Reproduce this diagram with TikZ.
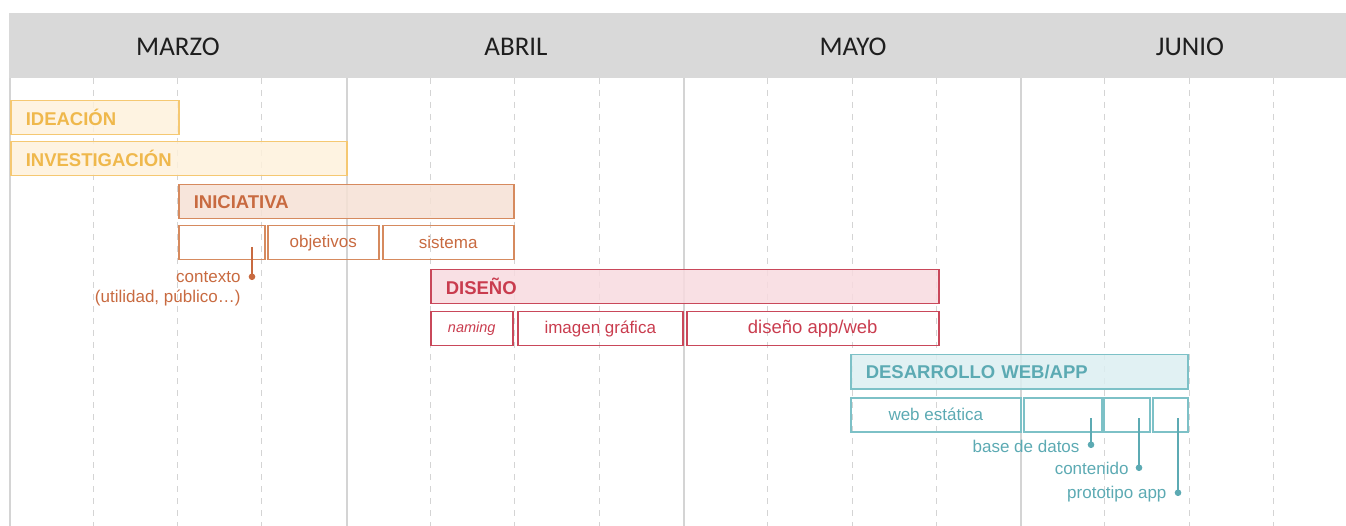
\documentclass[tikz,border=0pt]{standalone}
\usepackage{fontspec}
\setmainfont{Liberation Sans}
\newfontfamily\monthfont{Carlito}
\usetikzlibrary{arrows.meta, positioning}

\definecolor{headergray}{HTML}{D9D9D9}
\definecolor{gridgray}{HTML}{D4D4D4}
\definecolor{monthtext}{HTML}{1E1E1E}
\definecolor{ideaedge}{HTML}{F5C872}
\definecolor{ideafill}{HTML}{FEF1DC}
\definecolor{ideatext}{HTML}{EFB84C}
\definecolor{iniedge}{HTML}{D68A5E}
\definecolor{inifill}{HTML}{F6E1D5}
\definecolor{initext}{HTML}{C86A40}
\definecolor{disedge}{HTML}{C9485A}
\definecolor{disfill}{HTML}{F8DBDF}
\definecolor{distext}{HTML}{C93C4E}
\definecolor{devedge}{HTML}{7DC1C7}
\definecolor{devfill}{HTML}{DCEFF1}
\definecolor{devtext}{HTML}{5CAAB3}

\tikzstyle{month_label} = [font=\monthfont\fontsize{27}{30}\selectfont, text=monthtext]
\tikzstyle{week_line} = [gridgray, dash pattern=on 6pt off 6pt, line width=0.9pt]
\tikzstyle{month_line} = [gridgray, line width=2pt]
\tikzstyle{phase_bar} = [rectangle, anchor=north west, minimum height=34pt, inner xsep=15pt, inner ysep=0pt, align=left, line width=1.5pt, fill opacity=0.85, text opacity=1, font=\bfseries\fontsize{18.5}{20}\selectfont]
\tikzstyle{phase_idea} = [phase_bar, draw=ideaedge, fill=ideafill, text=ideatext]
\tikzstyle{phase_ini} = [phase_bar, draw=iniedge, fill=inifill, text=initext]
\tikzstyle{phase_dis} = [phase_bar, draw=disedge, fill=disfill, text=distext]
\tikzstyle{phase_dev} = [phase_bar, draw=devedge, fill=devfill, text=devtext]
\tikzstyle{task_box} = [rectangle, anchor=north west, minimum height=34pt, inner sep=0pt, line width=1.5pt, font=\fontsize{17}{19}\selectfont]
\tikzstyle{task_ini} = [task_box, draw=iniedge, text=initext]
\tikzstyle{task_dis} = [task_box, draw=disedge, text=distext]
\tikzstyle{task_dev} = [task_box, draw=devedge, text=devtext]
\tikzstyle{note_label} = [align=right, font=\fontsize{17}{20}\selectfont]
\tikzstyle{note_link} = [line width=1.8pt, -{Circle[length=6.5pt]}]

\begin{document}
\begin{tikzpicture}[x=1pt, y=-1pt]

    \useasboundingbox (0,0) rectangle (1346,526);

    % week and month grid
    \foreach \k in {1,2,3,5,6,7,9,10,11,13,14,15}
        \draw [week_line] ({9+84.3*\k}, 78) -- ({9+84.3*\k}, 526);
    \foreach \m in {0,1,2,3}
        \draw [month_line] ({9.5+337.2*\m}, 78) -- ({9.5+337.2*\m}, 526);

    % header band
    \fill [headergray] (9,13) rectangle (1346,78);
    \node (marzo) [month_label] at (178,47) {MARZO};
    \node (abril) [month_label] at (516,47) {ABRIL};
    \node (mayo) [month_label] at (853,47) {MAYO};
    \node (junio) [month_label] at (1190,47) {JUNIO};

    % phases
    \node (ideacion) [phase_idea, text width=138pt] at (10,100) {IDEACIÓN};
    \node (investigacion) [phase_idea, text width=306pt] at (10,141) {INVESTIGACIÓN};
    \node (iniciativa) [phase_ini, text width=305pt] at (178,184) {INICIATIVA};
    \node (diseno) [phase_dis, text width=478pt] at (430,269) {DISEÑO};
    \node (desarrollo) [phase_dev, text width=307pt] at (850,354) {DESARROLLO WEB/APP};

    % tasks of iniciativa
    \node (contexto) [task_ini, minimum width=86pt] at (178,225) {};
    \node (objetivos) [task_ini, minimum width=111pt] at (267,225) {objetivos};
    \node (sistema) [task_ini, minimum width=131pt] at (382,225) {sistema};

    % tasks of diseno
    \node (naming) [task_dis, minimum width=82pt, font=\itshape\fontsize{14.5}{16}\selectfont] at (430,311) {naming};
    \node (imagen) [task_dis, minimum width=165pt] at (517,311) {imagen gráfica};
    \node (appweb) [task_dis, minimum width=252pt, font=\fontsize{18.5}{20}\selectfont] at (686,311) {diseño app/web};

    % tasks of desarrollo
    \node (estatica) [task_dev, minimum width=170pt] at (850,397) {web estática};
    \node (datos) [task_dev, minimum width=78pt] at (1023,397) {};
    \node (contenido) [task_dev, minimum width=46pt] at (1103,397) {};
    \node (prototipo) [task_dev, minimum width=35pt] at (1152,397) {};

    % call-outs for the empty boxes
    \coordinate (contexto_top) at (252,247);
    \coordinate (contexto_dot) at (252,280);
    \node (contexto_note) [note_label, text=initext, left=8pt of contexto_dot, yshift=-8.5pt] {contexto\\(utilidad, público…)};
    \draw [note_link, initext] (contexto_top) -- (contexto_dot);

    \coordinate (datos_top) at (1091,418);
    \coordinate (datos_dot) at (1091,448);
    \node (datos_note) [note_label, text=devtext, left=8pt of datos_dot, yshift=2pt] {base de datos};
    \draw [note_link, devtext] (datos_top) -- (datos_dot);

    \coordinate (contenido_top) at (1139,418);
    \coordinate (contenido_dot) at (1139,471);
    \node (contenido_note) [note_label, text=devtext, left=7pt of contenido_dot, yshift=3pt] {contenido};
    \draw [note_link, devtext] (contenido_top) -- (contenido_dot);

    \coordinate (prototipo_top) at (1178,418);
    \coordinate (prototipo_dot) at (1178,496);
    \node (prototipo_note) [note_label, text=devtext, left=8pt of prototipo_dot, yshift=2pt] {prototipo app};
    \draw [note_link, devtext] (prototipo_top) -- (prototipo_dot);

\end{tikzpicture}
\end{document}
